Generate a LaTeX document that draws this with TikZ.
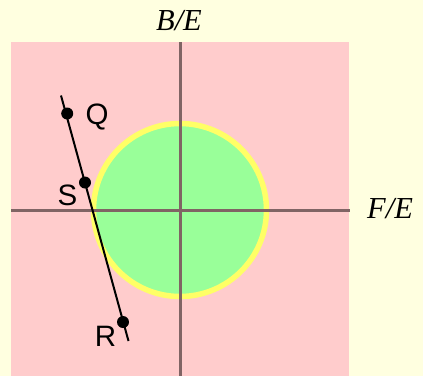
\documentclass[tikz,border=0pt]{standalone}
\usepackage{fontspec}
\setmainfont{Liberation Serif}
\newfontfamily\lblfont{Liberation Sans}
\definecolor{bgyellow}{HTML}{FFFFE0}
\definecolor{pinkbox}{HTML}{FFCCCC}
\definecolor{greenfill}{HTML}{99FF99}
\definecolor{ringyellow}{HTML}{FFFF66}
\definecolor{axisgray}{HTML}{806464}
\tikzset{
  axisline/.style={draw=axisgray, line width=3pt},
  dotpt/.style={circle, fill=black, inner sep=0pt, minimum size=12pt},
  ptlabel/.style={font=\lblfont\fontsize{29.5}{29.5}\selectfont, inner sep=0pt},
  axlabel/.style={font=\itshape\fontsize{30.5}{30.5}\selectfont, inner sep=0pt},
}
\begin{document}
\begin{tikzpicture}[x=1pt,y=-1pt]
\fill[bgyellow] (0,0) rectangle (423,376);
\useasboundingbox (0,0) rectangle (423,376);
\fill[pinkbox] (11,42) rectangle (349,376);
\node[circle, draw=ringyellow, fill=greenfill, line width=5.5pt, minimum size=173pt, inner sep=0pt] (C) at (180,210) {};
\coordinate (vtop) at (180,42);
\coordinate (vbot) at (180,376);
\coordinate (hleft) at (11,210);
\coordinate (hright) at (350,210);
\draw[axisline] (vtop) -- (vbot);
\draw[axisline] (hleft) -- (hright);
\coordinate (ltop) at (61,95.5);
\coordinate (lbot) at (128.5,341);
\draw[line width=2pt] (ltop) -- (lbot);
\node[dotpt] (Q) at (67.2,113.5) {};
\node[dotpt] (S) at (85,182.5) {};
\node[dotpt] (R) at (123,322) {};
\node[ptlabel] (Ql) at (97,116.5) {Q};
\node[ptlabel] (Sl) at (67.5,195) {S};
\node[ptlabel] (Rl) at (105.5,336) {R};
\node[axlabel] (BE) at (179,20.5) {B/E};
\node[axlabel] (FE) at (390,208.5) {F/E};
\end{tikzpicture}
\end{document}
